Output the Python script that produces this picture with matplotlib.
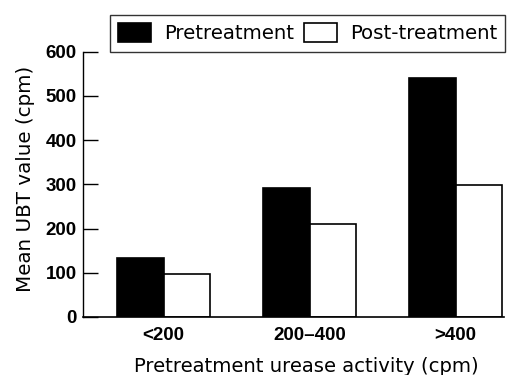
import matplotlib.pyplot as plt
import numpy as np

categories = ["<200", "200\u2013400", ">400"]
pretreatment = [133, 292, 540]
post_treatment = [97, 210, 299]

plt.rcParams["font.family"] = ["DejaVu Sans"]

fig = plt.figure(figsize=(5.15, 3.75), dpi=100)
ax = fig.add_axes([0.161, 0.155, 0.817, 0.707])

x = np.arange(len(categories))
w = 0.32
ax.bar(x - w / 2, pretreatment, w, color="black", edgecolor="black",
       linewidth=1.2, label="Pretreatment")
ax.bar(x + w / 2, post_treatment, w, color="white", edgecolor="black",
       linewidth=1.2, label="Post-treatment")

ax.set_xlim(-0.553, 2.33)
ax.set_ylim(0, 600)
ax.set_yticks([0, 100, 200, 300, 400, 500, 600])
ax.set_xticks(x)
ax.set_xticklabels(categories)

for s in ["top", "right"]:
    ax.spines[s].set_visible(False)
ax.spines["left"].set_linewidth(1.0)
ax.spines["bottom"].set_linewidth(1.2)

ax.tick_params(axis="y", direction="in", length=11, width=1.0, pad=4.5)
ax.tick_params(axis="x", length=0, pad=7)
for lab in ax.get_yticklabels() + ax.get_xticklabels():
    lab.set_fontfamily(["Liberation Sans", "DejaVu Sans"])
    lab.set_fontweight("bold")
    lab.set_fontsize(13.5)

ax.set_ylabel("Mean UBT value (cpm)", fontsize=14.3)
ax.yaxis.set_label_coords(-0.1135, 0.521)
ax.set_xlabel("Pretreatment urease activity (cpm)", fontsize=14.1)
ax.xaxis.set_label_coords(0.532, -0.152)

leg = ax.legend(loc="upper left", bbox_to_anchor=(110 / 515, 1 - 15 / 375),
                bbox_transform=fig.transFigure, ncol=2, fontsize=14.2,
                frameon=True, fancybox=False, edgecolor="black",
                handlelength=1.65, handleheight=1.1, columnspacing=0.55,
                handletextpad=0.65, borderpad=0.42, borderaxespad=0)
leg.get_frame().set_linewidth(1.0)

plt.savefig("out.png", dpi=100)
